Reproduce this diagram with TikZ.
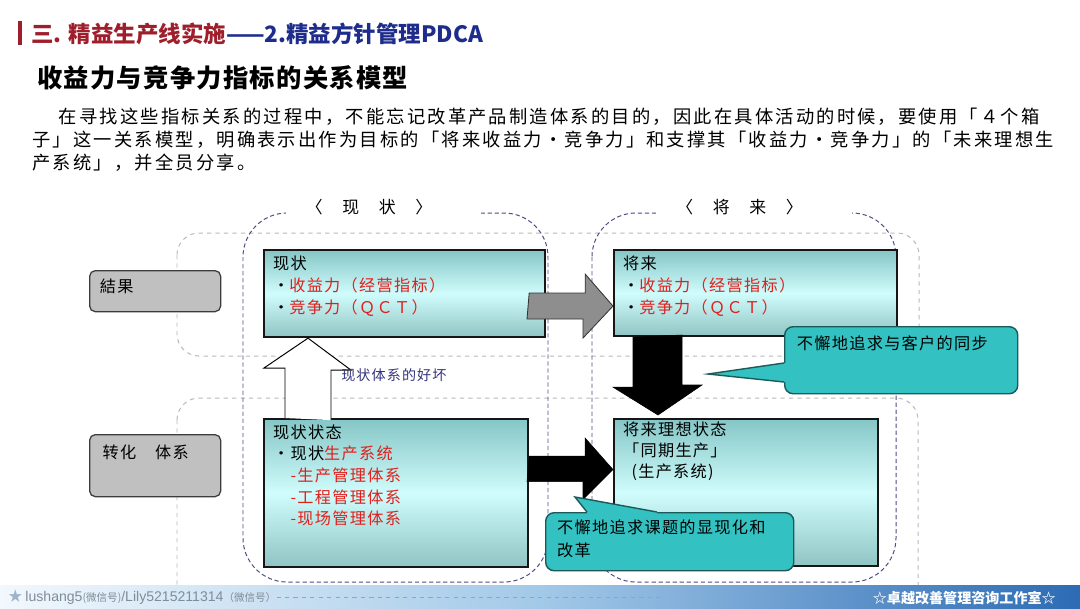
\documentclass[tikz,border=0pt]{standalone}
\usepackage{fontspec}
\setmainfont{Noto Sans CJK SC}
\newfontfamily\cjkhead[LetterSpace=5]{Noto Sans CJK SC}
\newfontfamily\cjkbody[LetterSpace=12]{Noto Sans CJK SC}
\newfontfamily\cjkbox[LetterSpace=8]{Noto Sans CJK SC}
\newfontfamily\cjknote[LetterSpace=8]{Noto Sans CJK SC}
\newfontfamily\footfont{Liberation Sans}
\usepackage{tikz}
\usetikzlibrary{positioning, calc}
\definecolor{titlered}{HTML}{9E1F2B}
\definecolor{titleblue}{HTML}{1E2C8C}
\definecolor{kpired}{HTML}{E0201C}
\definecolor{frameblue}{HTML}{4E4E86}
\definecolor{sidegray}{HTML}{C0C0C0}
\definecolor{sideline}{HTML}{3C3C3C}
\definecolor{boxline}{HTML}{161616}
\definecolor{boxtop}{HTML}{86C6C6}
\definecolor{boxmid}{HTML}{D0FCFC}
\definecolor{boxbot}{HTML}{90C4C4}
\definecolor{arrowgray}{HTML}{8E8E8E}
\definecolor{notefill}{HTML}{33C1C1}
\definecolor{noteline}{HTML}{1C5A5A}
\definecolor{labelblue}{HTML}{34347E}
\definecolor{footlight}{HTML}{F2F8FD}
\definecolor{footmid}{HTML}{A3C9E8}
\definecolor{footdark}{HTML}{2C6BB4}
\definecolor{footgray}{HTML}{7F8C99}
\definecolor{footstar}{HTML}{9DB4CC}

\begin{document}
\begin{tikzpicture}[
x=0.025cm, y=-0.025cm,
rowframe/.style={draw=gray!55, dashed, line width=0.7pt, rounded corners=0.55cm},
colframe/.style={draw=frameblue, dash pattern=on 3pt off 2pt, line width=0.7pt,
rounded corners=1.1cm},
coltitle/.style={fill=white, inner xsep=0.5cm, inner ysep=3pt, text width=3.875cm,
align=left, font=\cjkbox\fontsize{12}{14}\selectfont},
sidebox/.style={rectangle, rounded corners=4pt, draw=sideline, line width=0.9pt,
fill=sidegray, anchor=north west, inner sep=0pt},
sidetext/.style={inner sep=0pt, font=\cjkbox\fontsize{11.5}{14}\selectfont},
box/.style={rectangle, draw=boxline, line width=1.5pt, top color=boxtop,
bottom color=boxbot, middle color=boxmid, anchor=north west, inner sep=0pt},
boxtext/.style={inner sep=0pt, align=left, font=\cjkbox\fontsize{11.5}{15.6}\selectfont},
grayarr/.style={fill=arrowgray, draw=gray!40!black, line width=0.6pt},
blackarr/.style={fill=black, draw=black, line width=0.4pt},
whitearr/.style={fill=white, draw=black, line width=0.7pt},
note/.style={rectangle, rounded corners=6pt, draw=noteline, line width=1pt,
fill=notefill, anchor=north west, inner sep=0pt},
notetext/.style={inner sep=0pt, align=left, font=\cjknote\fontsize{11.5}{17}\selectfont},
pointer/.style={draw=noteline, line width=1pt}
]
\useasboundingbox (0,0) rectangle (1080,608);
\fill[white] (0,0) rectangle (1080,608);

\fill[titlered] (18,21) rectangle (22,45);
\node[anchor=west, inner sep=0pt, font=\fontsize{16}{18}\selectfont\bfseries] (title) at (31,34)
{\textcolor{titlered}{三. 精益生产线实施}\textcolor{titleblue}{——2.精益方针管理PDCA}};
\node[anchor=west, inner sep=0pt, font=\cjkhead\fontsize{18}{20}\selectfont\bfseries] (subtitle) at (37,78)
{收益力与竞争力指标的关系模型};
\node[anchor=north west, inner sep=0pt, align=left, font=\cjkbody\fontsize{13}{16.3}\selectfont] (intro) at (32,108)
{\hspace*{19pt}在寻找这些指标关系的过程中，不能忘记改革产品制造体系的目的，因此在具体活动的时候，要使用「４个箱\\
子」这一关系模型，明确表示出作为目标的「将来收益力・竞争力」和支撑其「收益力・竞争力」的「未来理想生\\
产系统」，并全员分享。};

\draw[rowframe] (177,233) rectangle (919,356);
\draw[rowframe] (177,398) rectangle (918,640);
\draw[colframe] (243,213) rectangle (548,582);
\draw[colframe] (592,213) rectangle (896,582);
\node[coltitle] (nowhead) at (383.5,207) {〈　现　状　〉};
\node[coltitle] (futurehead) at (754,207) {〈　将　来　〉};

\node[sidebox, minimum width=3.275cm, minimum height=1.025cm] (result) at (89,270) {};
\node[sidetext, below right=6pt and 7.5pt of result.north west] (resultlabel) {結果};
\node[sidebox, minimum width=3.275cm, minimum height=1.55cm] (system) at (89,434) {};
\node[sidetext, below right=7.5pt and 9.5pt of system.north west] (systemlabel) {转化　体系};

\node[box, minimum width=7.025cm, minimum height=2.175cm] (now) at (263,249) {};
\node[boxtext, below right=4.5pt and 7pt of now.north west] (nowtext)
{现状\\・\textcolor{kpired}{收益力（经营指标）}\\・\textcolor{kpired}{竞争力（ＱＣＴ）}};
\node[box, minimum width=7.075cm, minimum height=2.15cm] (future) at (613,249) {};
\node[boxtext, below right=4.5pt and 7pt of future.north west] (futuretext)
{将来\\・\textcolor{kpired}{收益力（经营指标）}\\・\textcolor{kpired}{竞争力（ＱＣＴ）}};
\node[box, minimum width=6.6cm, minimum height=3.7cm] (nowsys) at (263,418) {};
\node[boxtext, below right=4.5pt and 7pt of nowsys.north west,
font=\cjkbox\fontsize{11.5}{15.4}\selectfont] (nowsystext)
{现状状态\\・现状\textcolor{kpired}{生产系统}\\
\hspace*{12.4pt}\textcolor{kpired}{-生产管理体系}\\
\hspace*{12.4pt}\textcolor{kpired}{-工程管理体系}\\
\hspace*{12.4pt}\textcolor{kpired}{-现场管理体系}};
\node[box, minimum width=6.6cm, minimum height=3.675cm] (idealsys) at (613,418) {};
\node[boxtext, below right=2.5pt and 7pt of idealsys.north west,
font=\cjkbox\fontsize{11.5}{15}\selectfont] (idealtext)
{将来理想状态\\「同期生产」\\\hspace*{6pt}(生产系统)};

\coordinate (gtail) at ($(now.east)+(-17,12.5)$);
\coordinate (gtip) at ($(future.west)+(0,13)$);
\filldraw[grayarr] (gtail) ++(0,-13) -- ++(56,0) -- ++(0,-19) -- (gtip) -- ++(-30,32)
-- ++(0,-19) -- ++(-56,0) -- cycle;
\coordinate (dtop) at ($(future.south west)+(44.5,0)$);
\coordinate (dtip) at ($(idealsys.north west)+(45,-3)$);
\filldraw[blackarr] (dtop) ++(-24.5,0) -- ++(0,50) -- ++(-20,0) -- (dtip) -- ++(44,-30)
-- ++(-20,0) -- ++(0,-50) -- cycle;
\coordinate (rtail) at ($(nowsys.east)+(0,-23.5)$);
\coordinate (rtip) at ($(idealsys.west)+(0,-23)$);
\filldraw[blackarr] (rtail) ++(0,-13.5) -- ++(56,0) -- ++(0,-18) -- (rtip) -- ++(-30,30)
-- ++(0,-18) -- ++(-56,0) -- cycle;
\coordinate (utail) at ($(nowsys.north west)+(45,0)$);
\coordinate (utip) at ($(now.south west)+(45,0)$);
\filldraw[whitearr] (utail) ++(-23,0) -- ++(0,-50) -- ++(-21,0) -- (utip) -- ++(43,32)
-- ++(-20,0) -- ++(0,50);
\node[anchor=west, inner sep=0pt, text=labelblue, font=\cjknote\fontsize{10}{12}\selectfont]
(statelabel) at (341,375) {现状体系的好坏};

\node[note, minimum width=5.825cm, minimum height=1.675cm] (syncbox) at (784,326) {};
\coordinate (synca) at ($(syncbox.north west)+(0,37)$);
\coordinate (syncb) at ($(syncbox.north west)+(0,56)$);
\coordinate (synctip) at ($(syncbox.north west)+(-76,48)$);
\fill[notefill] (synca) -- (synctip) -- (syncb) -- ++(2,0) -- ($(synca)+(2,0)$) -- cycle;
\draw[pointer] (synca) -- (synctip) -- (syncb);
\node[notetext, below right=7pt and 9pt of syncbox.north west] (synctext) {不懈地追求与客户的同步};

\node[note, minimum width=6.2cm, minimum height=1.45cm] (taskbox) at (545,512) {};
\coordinate (taska) at ($(taskbox.north west)+(42,0)$);
\coordinate (taskb) at ($(taskbox.north west)+(112,0)$);
\coordinate (tasktip) at ($(taskbox.north west)+(30,-15)$);
\fill[notefill] (taska) -- (tasktip) -- (taskb) -- ++(0,2) -- ($(taska)+(0,2)$) -- cycle;
\draw[pointer] (taska) -- (tasktip) -- (taskb);
\node[notetext, below right=5pt and 8.5pt of taskbox.north west] (tasktext)
{不懈地追求课题的显现化和\\改革};

\shade[left color=footlight, right color=footdark, middle color=footmid] (0,585) rectangle (1080,608);
\node[anchor=west, inner sep=0pt, text=footgray, font=\fontsize{10}{12}\selectfont] (contact) at (8,597)
{\textcolor{footstar}{★} {\footfont lushang5}{\fontsize{7.5}{9}\selectfont(微信号)}{\footfont/Lily5215211314}{\fontsize{7.5}{9}\selectfont（微信号）}};
\coordinate (footend) at (660,597);
\draw[footgray!80, dashed, line width=0.5pt] (contact.east) -- (footend);
\node[anchor=east, inner sep=0pt, text=white, font=\fontsize{10}{12}\selectfont\bfseries] (studio) at (1056,598)
{☆卓越改善管理咨询工作室☆};
\end{tikzpicture}
\end{document}
